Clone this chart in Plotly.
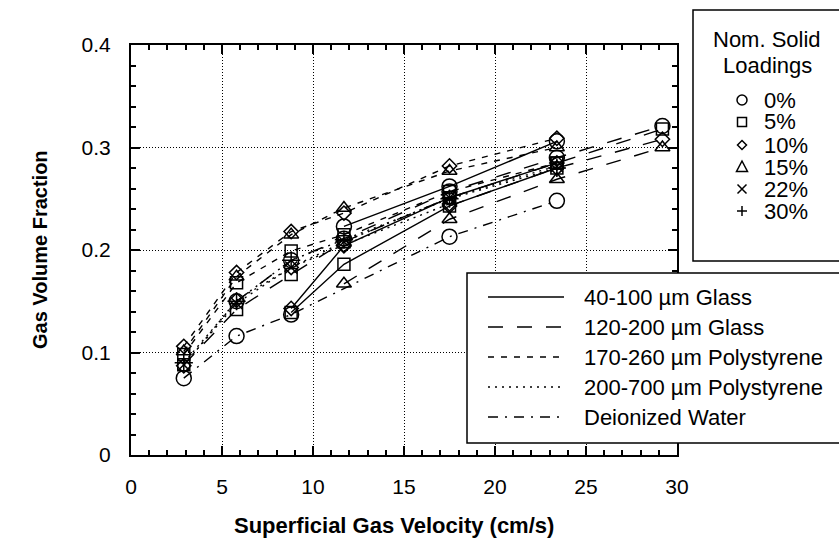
import plotly.graph_objects as go

# ---------------- data ----------------
velocity = [2.9, 5.8, 8.8, 11.7, 17.5, 23.4, 29.2]  # cm/s

water_0 = [0.075, 0.116, 0.137, None, 0.213, 0.248, None]

glass40_0 = [None, None, None, 0.223, 0.262, 0.306, None]
glass40_5 = [None, None, 0.139, 0.186, 0.243, 0.280, None]
glass40_10 = [None, None, 0.143, 0.204, 0.251, 0.285, None]

glass120_0 = [None, 0.150, 0.190, 0.211, 0.257, 0.290, 0.321]
glass120_5 = [0.088, 0.142, 0.176, 0.208, 0.251, 0.285, 0.318]
glass120_10 = [None, None, None, None, 0.243, 0.280, 0.308]
glass120_15 = [None, None, None, 0.167, 0.230, 0.269, 0.300]

poly170_5 = [0.098, 0.168, 0.199, 0.215, 0.257, 0.285, None]
poly170_10 = [0.106, 0.178, 0.218, 0.236, 0.282, 0.309, None]
poly170_15 = [0.101, 0.174, 0.215, 0.241, 0.277, 0.300, None]

poly200_10 = [0.087, 0.151, 0.183, 0.205, 0.245, None, None]
poly200_22 = [0.088, 0.148, 0.183, 0.208, 0.251, 0.282, None]
poly200_30 = [0.090, 0.150, 0.190, 0.210, 0.250, 0.280, None]

loading_labels = ["0%", "5%", "10%", "15%", "22%", "30%"]
particle_labels = ["40-100 µm Glass", "120-200 µm Glass", "170-260 µm Polystyrene",
                   "200-700 µm Polystyrene", "Deionized Water"]

x_ticks = [0, 5, 10, 15, 20, 25, 30]
y_ticks = [0, 0.1, 0.2, 0.3, 0.4]

# ---------------- styles ----------------
W, H = 839, 540
FONT = "Liberation Sans, Arial, Helvetica, sans-serif"
LEG_SIZE = 22
dash_styles = ["solid", "15px,14px", "6px,7px", "2px,5px", "10px,7px,2px,7px"]
symbols = {"0%": "circle-open", "5%": "square-open", "10%": "diamond-open",
           "15%": "triangle-up-open", "22%": "x-thin-open", "30%": "cross-thin-open"}
sizes = {"0%": 15, "5%": 12, "10%": 11, "15%": 13, "22%": 12, "30%": 13}

series = [
    (water_0, 4, "0%"),
    (glass40_0, 0, "0%"), (glass40_5, 0, "5%"), (glass40_10, 0, "10%"),
    (glass120_0, 1, "0%"), (glass120_5, 1, "5%"), (glass120_10, 1, "10%"), (glass120_15, 1, "15%"),
    (poly170_5, 2, "5%"), (poly170_10, 2, "10%"), (poly170_15, 2, "15%"),
    (poly200_10, 3, "10%"), (poly200_22, 3, "22%"), (poly200_30, 3, "30%"),
]

fig = go.Figure()
for yvals, ptype, load in series:
    fig.add_trace(go.Scatter(
        x=velocity, y=yvals, mode="lines+markers", connectgaps=True,
        line=dict(color="black", width=1.4, dash=dash_styles[ptype]),
        marker=dict(symbol=symbols[load], size=sizes[load], color="black",
                    line=dict(color="black", width=1.5)),
        name=f"{particle_labels[ptype]} {load}", showlegend=False,
    ))

# plot area in page pixels
L, R, T, B = 131, 677, 45, 455

axis_common = dict(
    showline=True, linecolor="black", linewidth=2, mirror="allticks",
    ticks="inside", ticklen=9, tickwidth=1.5, tickcolor="black",
    showgrid=True, gridcolor="black", gridwidth=1, griddash="1px,2px",
    zeroline=False, tickfont=dict(family=FONT, size=21, color="black"),
)
fig.update_xaxes(range=[0, 30], tickvals=x_ticks, ticktext=[str(v) for v in x_ticks],
                 minor=dict(ticks="inside", dtick=1, ticklen=5, tickwidth=1.5, tickcolor="black", showgrid=False),
                 ticklabelstandoff=12, **axis_common)
fig.update_yaxes(range=[0, 0.4], tickvals=y_ticks, ticktext=["0", "0.1", "0.2", "0.3", "0.4"],
                 minor=dict(ticks="inside", dtick=0.02, ticklen=5, tickwidth=1.5, tickcolor="black", showgrid=False),
                 ticklabelstandoff=14, **axis_common)


def px(x):
    return (x - L) / (R - L)


def py(y):
    return (B - y) / (B - T)


shapes = []
annotations = []

# axis titles
annotations.append(dict(x=px(394), y=py(525), xref="paper", yref="paper", text="<b>Superficial Gas Velocity (cm/s)</b>",
                        showarrow=False, font=dict(family=FONT, size=22, color="black"),
                        xanchor="center", yanchor="middle"))
annotations.append(dict(x=px(40), y=py(250), xref="paper", yref="paper", text="<b>Gas Volume Fraction</b>",
                        showarrow=False, textangle=-90, font=dict(family=FONT, size=20, color="black"),
                        xanchor="center", yanchor="middle"))

# legend 1 (solid loadings)
shapes.append(dict(type="rect", xref="paper", yref="paper", x0=px(693), x1=px(860), y0=py(10), y1=py(261),
                   line=dict(color="black", width=1.5), fillcolor="white", layer="above"))
annotations.append(dict(x=px(767), y=py(40), xref="paper", yref="paper", text="Nom. Solid", showarrow=False,
                        font=dict(family=FONT, size=LEG_SIZE, color="black"), xanchor="center", yanchor="middle"))
annotations.append(dict(x=px(767), y=py(65), xref="paper", yref="paper", text="Loadings", showarrow=False,
                        font=dict(family=FONT, size=LEG_SIZE, color="black"), xanchor="center", yanchor="middle"))
row_y = [100, 122, 145, 167, 189, 211]
mx = 742
for lab, ry in zip(loading_labels, row_y):
    annotations.append(dict(x=px(762), y=py(ry), xref="paper", yref="paper", text=lab, showarrow=False,
                            font=dict(family=FONT, size=LEG_SIZE, color="black"), xanchor="left", yanchor="middle"))
    st = dict(xref="paper", yref="paper", line=dict(color="black", width=1.5), layer="above")
    if lab == "0%":
        r = 5
        shapes.append(dict(type="circle", x0=px(mx - r), x1=px(mx + r), y0=py(ry - r), y1=py(ry + r), **st))
    elif lab == "5%":
        r = 4.5
        shapes.append(dict(type="rect", x0=px(mx - r), x1=px(mx + r), y0=py(ry - r), y1=py(ry + r), **st))
    else:
        if lab == "10%":
            r = 4.5
            pts = [(mx, ry - r), (mx + r, ry), (mx, ry + r), (mx - r, ry)]
            path = "M " + " L ".join(f"{px(a)},{py(b)}" for a, b in pts) + " Z"
        elif lab == "15%":
            pts = [(mx, ry - 6), (mx + 5.5, ry + 4.5), (mx - 5.5, ry + 4.5)]
            path = "M " + " L ".join(f"{px(a)},{py(b)}" for a, b in pts) + " Z"
        elif lab == "22%":
            r = 4.5
            path = (f"M {px(mx - r)},{py(ry - r)} L {px(mx + r)},{py(ry + r)} "
                    f"M {px(mx - r)},{py(ry + r)} L {px(mx + r)},{py(ry - r)}")
        else:
            r = 5
            path = (f"M {px(mx - r)},{py(ry)} L {px(mx + r)},{py(ry)} "
                    f"M {px(mx)},{py(ry - r)} L {px(mx)},{py(ry + r)}")
        shapes.append(dict(type="path", path=path, **st))

# legend 2 (particle types)
shapes.append(dict(type="rect", xref="paper", yref="paper", x0=px(467), x1=px(860), y0=py(273), y1=py(443),
                   line=dict(color="black", width=1.5), fillcolor="white", layer="above"))
row_y2 = [297, 327, 357, 387, 417]
for lab, d, ry in zip(particle_labels, dash_styles, row_y2):
    shapes.append(dict(type="line", xref="paper", yref="paper", x0=px(488), x1=px(564), y0=py(ry), y1=py(ry),
                       line=dict(color="black", width=1.5, dash=d), layer="above"))
    annotations.append(dict(x=px(582), y=py(ry), xref="paper", yref="paper", text=lab, showarrow=False,
                            font=dict(family=FONT, size=LEG_SIZE, color="black"), xanchor="left", yanchor="middle"))

fig.update_layout(
    width=W, height=H, autosize=False,
    margin=dict(l=L, r=W - R, t=T, b=H - B, autoexpand=False),
    paper_bgcolor="white", plot_bgcolor="white",
    showlegend=False, shapes=shapes, annotations=annotations,
    font=dict(family=FONT, color="black"),
)

fig.write_html("out.html", config={"displayModeBar": False},
               post_script="document.body.style.margin='0';document.body.style.overflow='hidden';")
